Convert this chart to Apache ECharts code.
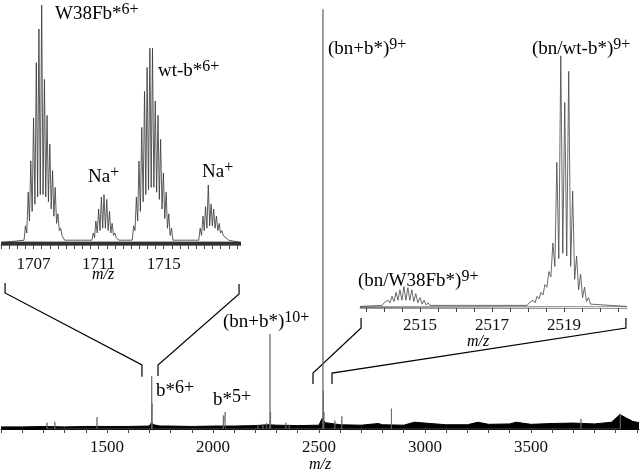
<!DOCTYPE html>
<html>
<head>
<meta charset="utf-8">
<script src="https://cdn.jsdelivr.net/npm/echarts@6/dist/echarts.min.js"></script>
<style>
  html, body { margin: 0; padding: 0; background: #fff; }
  #chart { width: 640px; height: 473px; }
</style>
</head>
<body>
<div id="chart"></div>
<script>
// ---- overview spectrum (m/z, relative intensity) ----
const mainPeaks = [
  [1217, 1.5], [1254, 1.7], [1453, 2.8], [1711, 12.5], [1713, 6],
  [2049, 3.2], [2058, 4.0], [2212, 1.0], [2236, 1.2], [2253, 1.4],
  [2269, 22.4], [2272, 4], [2344, 1.5], [2360, 1.0],
  [2519, 99], [2521, 9], [2524, 4], [2575, 2.0], [2608, 3.0],
  [2842, 4.8], [3736, 2.4], [3922, 3.6]
]
// thickness of the noisy baseline
const mainNoise = [
  [1000, 0.5], [1100, 0.5], [1200, 0.6], [1300, 0.5], [1400, 0.6], [1500, 0.6],
  [1600, 0.6], [1700, 0.7], [1710, 1.5], [1720, 1.0], [1750, 0.7], [1800, 0.7],
  [1900, 0.6], [2000, 0.7], [2100, 0.7], [2200, 0.8], [2260, 1.0], [2300, 0.9],
  [2400, 0.8], [2500, 0.9], [2515, 2.5], [2530, 1.5], [2600, 1.0], [2700, 0.9],
  [2780, 1.3], [2800, 1.0], [2900, 0.9], [2950, 1.6], [3000, 1.4], [3100, 1.0],
  [3200, 1.0], [3250, 1.6], [3300, 1.1], [3400, 1.2], [3430, 1.6], [3500, 1.1],
  [3600, 1.3], [3700, 1.4], [3800, 1.2], [3880, 1.6], [3920, 3.4], [3950, 2.6],
  [3980, 1.8], [4010, 1.5]
]
const mainTickLabels = [1500, 2000, 2500, 3000, 3500]

// ---- inset 1 : 6+ ions around m/z 1707-1719 ----
const w38Mz = [1706.50, 1706.67, 1706.83, 1707.00, 1707.17, 1707.33, 1707.50, 1707.67,
  1707.83, 1708.00, 1708.17, 1708.33, 1708.50, 1708.67, 1708.83]
const w38H = [8, 22, 35, 53, 76, 90, 100, 69, 54, 42, 31, 24, 13, 7, 3]
const w38Valley = [2, 5, 10, 14, 17, 20, 21, 21, 20, 18, 15, 12, 9, 6, 4, 2]

const na1Mz = [1710.67, 1710.83, 1711.00, 1711.17, 1711.33, 1711.50, 1711.67, 1711.83, 1712.00, 1712.17]
const na1H = [5, 10, 15, 20, 21, 19, 14, 9, 5, 3]
const na1Valley = [2, 3, 5, 6, 7, 7, 6, 5, 4, 3, 2]

const wtMz = [1713.15, 1713.32, 1713.48, 1713.65, 1713.82, 1713.98, 1714.15, 1714.31,
  1714.48, 1714.65, 1714.81, 1714.98, 1715.15, 1715.31, 1715.48]
const wtH = [8, 20, 35, 49, 64, 74, 82, 82, 60, 54, 44, 30, 22, 13, 7]
const wtValley = [2, 6, 10, 14, 18, 21, 23, 24, 24, 22, 19, 15, 11, 7, 4, 2]

const na2Mz = [1717.24, 1717.41, 1717.57, 1717.74, 1717.91, 1718.07, 1718.24, 1718.41, 1718.57, 1718.74, 1718.91]
const na2H = [7, 12, 16, 25, 17, 15, 12, 9, 6, 4, 3]
const na2Valley = [2, 4, 6, 7, 8, 8, 7, 6, 5, 4, 3, 2]

const inset1Noise = [[1705, 1.2], [1719.75, 1.2]]
const inset1TickLabels = [1707, 1711, 1715]

// ---- inset 2 : 9+ complexes around m/z 2514-2520 ----
const bnW38Mz = [2514.00, 2514.11, 2514.22, 2514.33, 2514.44, 2514.55, 2514.66, 2514.77, 2514.88, 2515.00, 2515.11, 2515.22]
const bnW38H = [2, 3, 4.5, 6, 7, 8.2, 7.8, 7, 5.5, 4, 3, 2]
const bnW38Valley = [1, 1.5, 2, 2.5, 3, 3, 3, 3, 2.5, 2, 1.5, 1.2, 1]

const bnWtMz = [2518.03, 2518.14, 2518.25, 2518.36, 2518.47, 2518.58, 2518.69, 2518.80,
  2518.91, 2519.02, 2519.13, 2519.24, 2519.35, 2519.46, 2519.57, 2519.68]
const bnWtH = [2, 3, 4.5, 6, 9, 14, 25, 56, 97, 79, 91, 45, 20, 13, 8, 4]
const bnWtValley = [1, 1.5, 2, 3.5, 5, 8, 12, 16, 19, 21, 20, 16, 11, 7, 4, 2.5, 1.5]

const inset2Noise = [[2513.33, 0.5], [2520.75, 0.5]]
const inset2TickLabels = [2515, 2517, 2519]

// ---- helpers ----
function sticks (peaks) {
  const out = []
  peaks.forEach(p => { out.push([p[0], 0], [p[0], p[1]], [p[0], 0]) })
  return out
}
function profile (mz, h, valley) {
  const pts = []
  const n = mz.length
  for (let i = 0; i < n; i++) {
    const vx = i === 0 ? mz[0] - (mz[1] - mz[0]) / 2 : (mz[i - 1] + mz[i]) / 2
    pts.push([vx, valley[i]])
    pts.push([mz[i], h[i]])
  }
  pts.push([mz[n - 1] + (mz[n - 1] - mz[n - 2]) / 2, valley[n]])
  return pts
}
function ticksEvery (min, max, step) {
  const out = []
  for (let v = min; v <= max + 1e-9; v += step) out.push(+v.toFixed(2))
  return out
}

const serif = 'Liberation Serif'
const inset1Line = [[1705, 1]].concat(
  profile(w38Mz, w38H, w38Valley), profile(na1Mz, na1H, na1Valley),
  profile(wtMz, wtH, wtValley), profile(na2Mz, na2H, na2Valley), [[1719.75, 1]])
const inset2Line = [[2513.33, 0.6]].concat(
  profile(bnW38Mz, bnW38H, bnW38Valley), profile(bnWtMz, bnWtH, bnWtValley), [[2520.75, 0.6]])

function xAxisOf (grid, min, max, ticks, labels, margin, lineColor) {
  return {
    gridIndex: grid,
    type: 'value',
    min: min,
    max: max,
    axisLine: { show: true, onZero: false, lineStyle: { color: lineColor, width: 1.2 } },
    axisTick: { show: true, customValues: ticks, length: 4, lineStyle: { color: '#444', width: 1 } },
    axisLabel: {
      customValues: labels, margin: margin, fontFamily: serif, fontSize: 17, color: '#111',
      formatter: v => String(v)
    },
    splitLine: { show: false }
  }
}
function yAxisOf (grid) {
  return { gridIndex: grid, type: 'value', min: 0, max: 100, show: false, splitLine: { show: false } }
}
function lineSeries (idx, data, color, width, area) {
  const s = {
    type: 'line', xAxisIndex: idx, yAxisIndex: idx, data: data, symbol: 'none',
    lineStyle: { color: color, width: width }, silent: true
  }
  if (area) s.areaStyle = { color: color, opacity: 1 }
  return s
}

const chart = echarts.init(document.getElementById('chart'))
chart.setOption({
  animation: false,
  backgroundColor: '#fff',
  grid: [
    { left: 1, right: 1, top: 5, bottom: 44 },
    { left: 1, width: 240, top: 5, height: 240 },
    { left: 360, width: 267, top: 48, height: 260 }
  ],
  xAxis: [
    xAxisOf(0, 1000, 4010, ticksEvery(1000, 4000, 100), mainTickLabels, 10, '#000'),
    xAxisOf(1, 1705, 1719.75, ticksEvery(1705, 1719.5, 0.5), inset1TickLabels, 11, '#777'),
    xAxisOf(2, 2513.33, 2520.75, ticksEvery(2513.5, 2520.5, 0.5), inset2TickLabels, 9, '#999')
  ],
  yAxis: [yAxisOf(0), yAxisOf(1), yAxisOf(2)],
  series: [
    lineSeries(0, mainNoise, '#000', 1, true),
    lineSeries(0, sticks(mainPeaks), '#666', 0.8, false),
    lineSeries(1, inset1Noise, '#333', 1, true),
    lineSeries(1, inset1Line, '#333', 0.8, false),
    lineSeries(2, inset2Noise, '#777', 0.8, true),
    lineSeries(2, inset2Line, '#444', 0.8, false)
  ]
})

// connector brackets, given as [grid, m/z, intensity] points
const connectors = [
  [[1, 1705.25, -15.8], [1, 1705.25, -20], [0, 1665, 15.1], [0, 1665, 12.3]],
  [[1, 1719.63, -16.2], [1, 1719.63, -20.4], [0, 1740.7, 15.1], [0, 1740.7, 12.5]],
  [[2, 2513.36, -3.8], [2, 2513.36, -7.7], [0, 2472, 13.2], [0, 2472, 10.6]],
  [[2, 2520.72, -3.8], [2, 2520.72, -7.7], [0, 2561.6, 13.2], [0, 2561.6, 10.6]]
]

function label (x, y, main, sup, supSize) {
  return {
    type: 'text', x: x, y: y, silent: true,
    style: {
      text: '{m|' + main + '}{s|' + sup + '}',
      verticalAlign: 'top',
      rich: {
        m: { fontFamily: serif, fontSize: 19, lineHeight: 24, fill: '#000' },
        s: { fontFamily: serif, fontSize: supSize || 16, lineHeight: 12, verticalAlign: 'top', fill: '#000' }
      }
    }
  }
}
function axisName (x, y) {
  return {
    type: 'text', x: x, y: y, silent: true,
    style: { text: 'm/z', fontFamily: serif, fontStyle: 'italic', fontSize: 16, fill: '#000', align: 'center', verticalAlign: 'middle' }
  }
}

const graphics = connectors.map(pts => ({
  type: 'polyline',
  silent: true,
  shape: { points: pts.map(p => chart.convertToPixel({ gridIndex: p[0] }, [p[1], p[2]])) },
  style: { stroke: '#000', lineWidth: 1.2, fill: null }
}))
graphics.push(
  label(55, 2, 'W38Fb*', '6+'),
  label(158, 59, 'wt-b*', '6+'),
  label(88, 165, 'Na', '+'),
  label(202, 160, 'Na', '+'),
  label(328, 37, '(bn+b*)', '9+'),
  label(532, 37, '(bn/wt-b*)', '9+'),
  label(358, 269, '(bn/W38Fb*)', '9+'),
  label(223, 310, '(bn+b*)', '10+'),
  label(156, 379, 'b*', '6+', 18),
  label(213, 388, 'b*', '5+', 18),
  axisName(320, 465),
  axisName(103, 275),
  axisName(478, 342)
)
chart.setOption({ graphic: graphics })
</script>
</body>
</html>
